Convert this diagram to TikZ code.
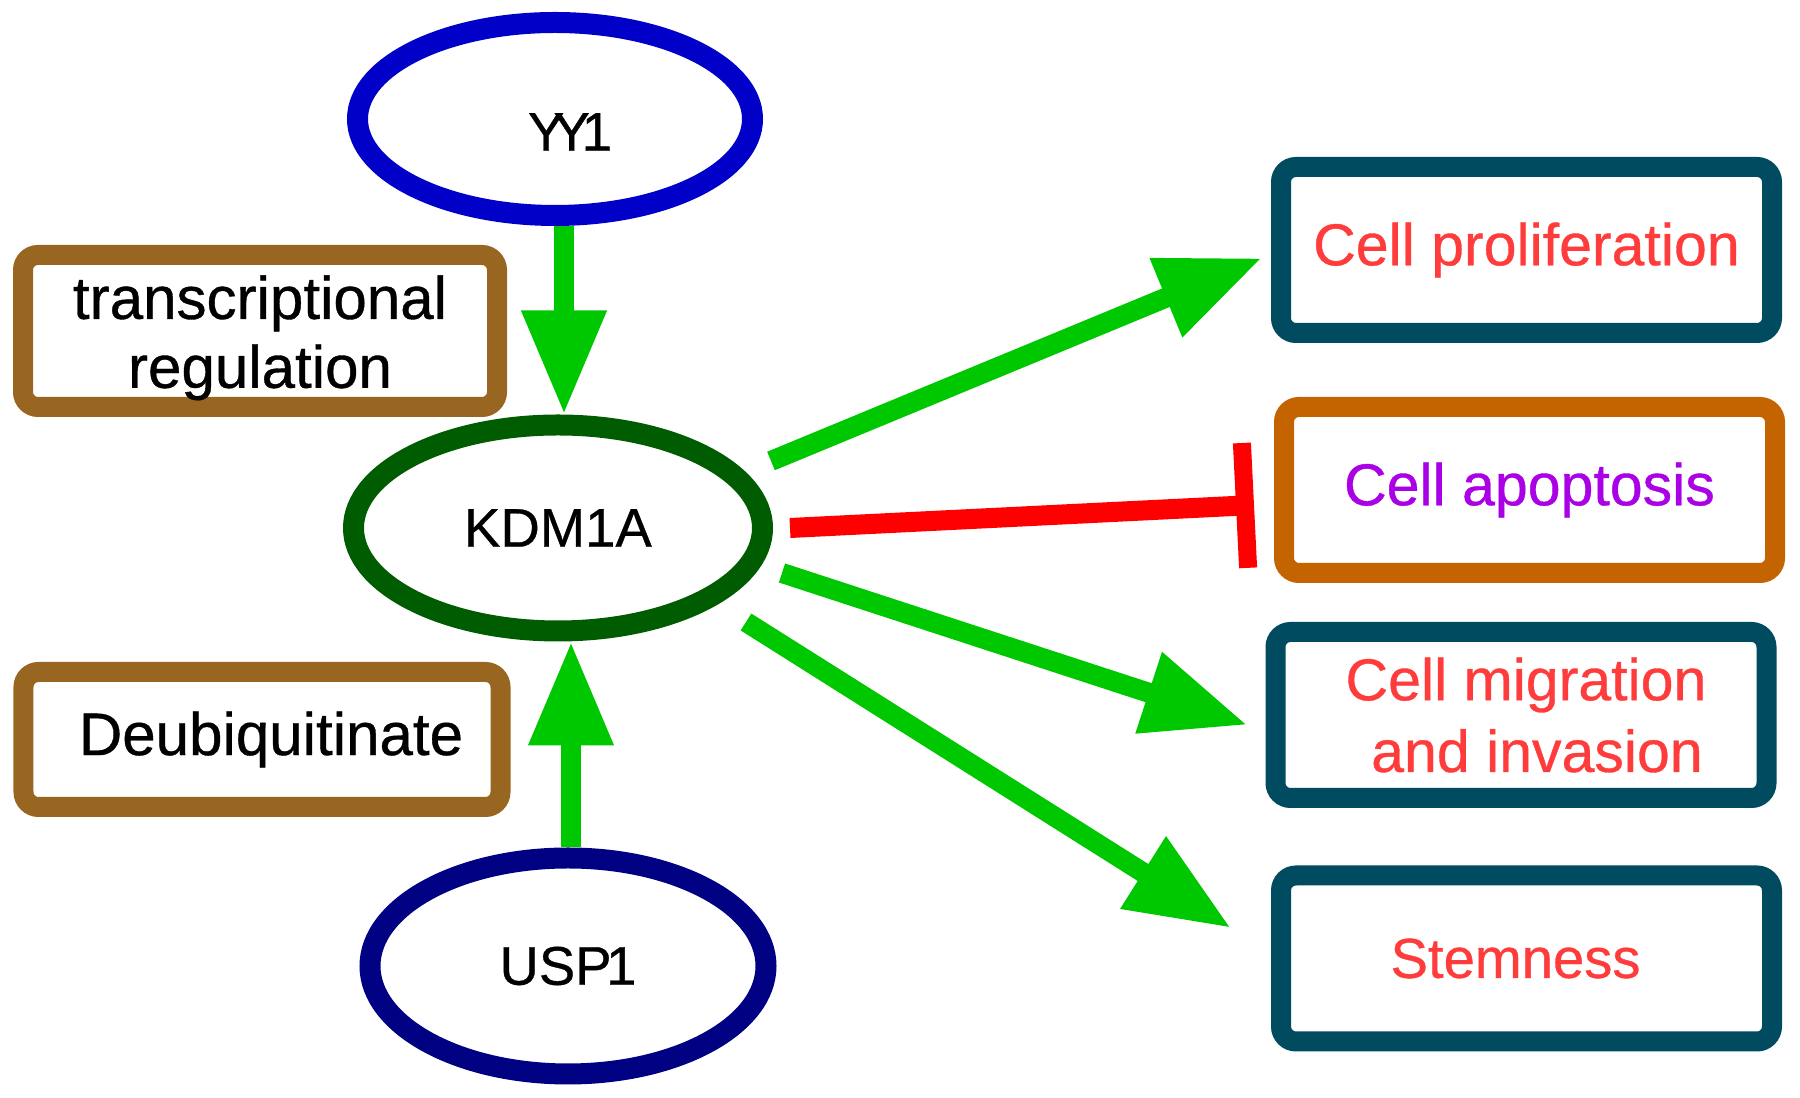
\documentclass[tikz,border=0pt]{standalone}
\usepackage{fontspec}
\setmainfont[FakeBold=0.6]{Liberation Sans}
\usetikzlibrary{arrows.meta,shapes.geometric,calc}
\definecolor{yyblue}{RGB}{0,0,200}
\definecolor{kdmgreen}{RGB}{0,92,0}
\definecolor{uspnavy}{RGB}{0,0,130}
\definecolor{boxbrown}{RGB}{153,102,34}
\definecolor{boxteal}{RGB}{0,75,95}
\definecolor{boxorange}{RGB}{195,100,0}
\definecolor{txtred}{RGB}{255,60,60}
\definecolor{txtpurple}{RGB}{170,0,230}
\definecolor{arrgreen}{RGB}{0,200,0}
\definecolor{inhred}{RGB}{255,0,0}
\begin{document}
\begin{tikzpicture}[
  oval/.style={ellipse, draw, line width=0.21cm, inner sep=0pt, font=\fontsize{15.5}{18}\selectfont},
  leftbox/.style={rectangle, rounded corners=0.15cm, draw=boxbrown, line width=0.2cm, align=center, inner sep=0pt, font=\fontsize{17.1}{19.6}\selectfont},
  rightbox/.style={rectangle, rounded corners=0.15cm, draw=boxteal, line width=0.2cm, align=center, inner sep=0pt, text=txtred, minimum width=4.91cm, minimum height=1.66cm, font=\fontsize{16.8}{20.4}\selectfont},
  act/.style={draw=arrgreen, line width=0.2cm, -{Triangle[length=1.04cm,width=0.8cm]}},
  inh/.style={draw=inhred, line width=0.2cm, -{Rectangle[length=0.18cm,width=1.25cm]}}
]
\useasboundingbox (0,0) rectangle (18,-10.98);

\node[oval, draw=yyblue, minimum width=3.95cm, minimum height=1.93cm] (yy1) at (5.55,-1.19) {\raisebox{-0.13cm}[\height][\depth]{\hspace*{0.3cm}Y\kern-0.2em Y\kern-0.15em 1}};
\node[oval, draw=kdmgreen, minimum width=4.09cm, minimum height=2.06cm] (kdm) at (5.58,-5.28) {KDM1A};
\node[oval, draw=uspnavy, minimum width=3.96cm, minimum height=2.16cm] (usp) at (5.68,-9.66) {USP\kern-0.1em 1};

\node[leftbox, minimum width=4.74cm, minimum height=1.52cm] (trans) at (2.60,-3.31) {\raisebox{-0.086cm}[\height][\depth]{\begin{tabular}{@{}c@{}}transcriptional\\regulation\end{tabular}}};
\node[leftbox, minimum width=4.77cm, minimum height=1.35cm] (deub) at (2.62,-7.395) {\hspace*{0.18cm}Deubiquitinate};

\node[rightbox] (prolif) at (15.265,-2.50) {Cell proliferation};
\node[rightbox, draw=boxorange, text=txtpurple] (apopt) at (15.295,-4.90) {Cell apoptosis};
\node[rightbox] (migr) at (15.21,-7.15) {\hspace*{0.1cm}Cell migration\\\hspace*{0.32cm}and invasion};
\node[rightbox, font=\fontsize{16}{19}\selectfont] (stem) at (15.265,-9.585) {\hspace*{-0.22cm}Stemness};

\draw[act] ([xshift=0.09cm]yy1.south) -- ([xshift=0.09cm]yy1.south |- kdm.north);
\draw[act] ([xshift=0.03cm]usp.north) -- ([xshift=0.03cm]usp.north |- kdm.south);
\draw[act] ([shift={(2.13,0.67)}]kdm.center) -- ([shift={(-0.09,-0.08)}]prolif.west);
\draw[inh] ([shift={(2.32,0)}]kdm.center) -- ([shift={(-0.20,-0.15)}]apopt.west);
\draw[act] ([shift={(2.24,-0.45)}]kdm.center) -- ([shift={(-0.18,-0.10)}]migr.west);
\draw[act] ([shift={(1.88,-0.94)}]kdm.center) -- ([shift={(-0.40,0.305)}]stem.west);
\end{tikzpicture}
\end{document}
